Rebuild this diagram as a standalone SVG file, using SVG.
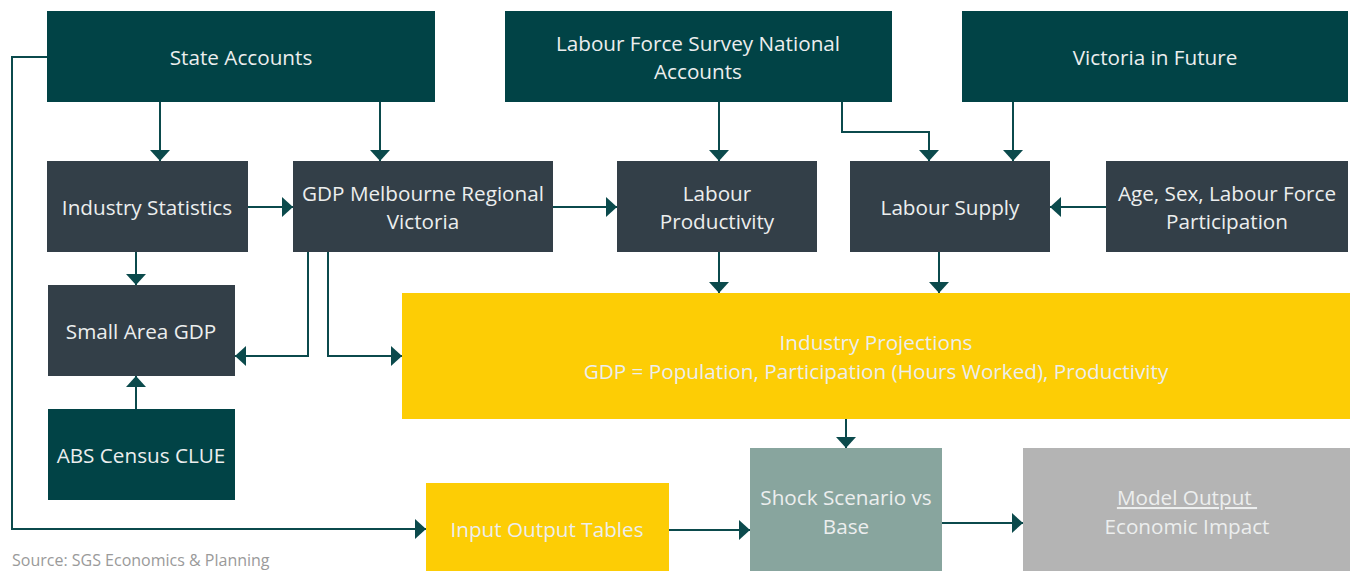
<svg xmlns="http://www.w3.org/2000/svg" width="1357" height="571" viewBox="0 0 1357 571">
<style>
.teal{fill:#014346}
.slate{fill:#333f48}
.yellow{fill:#fdcd05}
.sage{fill:#88a59e}
.grey{fill:#b4b4b4}
text{font-family:"Open Sans","Noto Sans",sans-serif;font-size:20.7px;fill:#eceeee;text-anchor:middle}
.src{fill:#9a9a9a;font-size:16px;text-anchor:start}
.c{fill:none;stroke:#0b4a4c;stroke-width:2}
</style>
<defs>
<marker id="ah" markerUnits="userSpaceOnUse" markerWidth="12" markerHeight="20" refX="11" refY="10" orient="auto">
<path d="M0,0 L11,10 L0,20 z" fill="#0b4a4c"/>
</marker>
</defs>
<rect width="1357" height="571" fill="#ffffff"/>
<g id="connectors">
<path class="c" d="M47,57 H12 V529 H426" marker-end="url(#ah)"/>
<path class="c" d="M160,102 V161" marker-end="url(#ah)"/>
<path class="c" d="M380,102 V161" marker-end="url(#ah)"/>
<path class="c" d="M719,102 V161" marker-end="url(#ah)"/>
<path class="c" d="M842,102 V132 H929 V161" marker-end="url(#ah)"/>
<path class="c" d="M1013,102 V161" marker-end="url(#ah)"/>
<path class="c" d="M248,207 H293" marker-end="url(#ah)"/>
<path class="c" d="M553,207 H617" marker-end="url(#ah)"/>
<path class="c" d="M1106,207 H1050" marker-end="url(#ah)"/>
<path class="c" d="M136,252 V285" marker-end="url(#ah)"/>
<path class="c" d="M136,409 V376" marker-end="url(#ah)"/>
<path class="c" d="M308,252 V356 H235" marker-end="url(#ah)"/>
<path class="c" d="M328,252 V356 H402" marker-end="url(#ah)"/>
<path class="c" d="M719,252 V293" marker-end="url(#ah)"/>
<path class="c" d="M939,252 V293" marker-end="url(#ah)"/>
<path class="c" d="M846,419 V448" marker-end="url(#ah)"/>
<path class="c" d="M669,530 H750" marker-end="url(#ah)"/>
<path class="c" d="M942,523 H1023" marker-end="url(#ah)"/>
</g>
<g id="state-accounts">
<rect class="teal" x="47" y="11" width="388" height="91"/>
<text x="241" y="65">State Accounts</text>
</g>
<g id="labour-force-survey">
<rect class="teal" x="505" y="11" width="387" height="91"/>
<text x="698" y="51">Labour Force Survey National</text>
<text x="698" y="79">Accounts</text>
</g>
<g id="victoria-in-future">
<rect class="teal" x="962" y="11" width="386" height="91"/>
<text x="1155" y="65">Victoria in Future</text>
</g>
<g id="industry-statistics">
<rect class="slate" x="47" y="161" width="201" height="91"/>
<text x="147" y="215">Industry Statistics</text>
</g>
<g id="gdp-melbourne">
<rect class="slate" x="293" y="161" width="260" height="91"/>
<text x="423" y="201">GDP Melbourne Regional</text>
<text x="423" y="229">Victoria</text>
</g>
<g id="labour-productivity">
<rect class="slate" x="617" y="161" width="200" height="91"/>
<text x="717" y="201">Labour</text>
<text x="717" y="229">Productivity</text>
</g>
<g id="labour-supply">
<rect class="slate" x="850" y="161" width="200" height="91"/>
<text x="950" y="215">Labour Supply</text>
</g>
<g id="age-sex">
<rect class="slate" x="1106" y="161" width="242" height="91"/>
<text x="1227" y="201">Age, Sex, Labour Force</text>
<text x="1227" y="229">Participation</text>
</g>
<g id="small-area-gdp">
<rect class="slate" x="48" y="285" width="187" height="91"/>
<text x="141" y="339">Small Area GDP</text>
</g>
<g id="abs-census">
<rect class="teal" x="48" y="409" width="187" height="91"/>
<text x="141" y="463">ABS Census CLUE</text>
</g>
<g id="industry-projections">
<rect class="yellow" x="402" y="293" width="948" height="126"/>
<text x="876" y="350">Industry Projections</text>
<text x="876" y="379">GDP = Population, Participation (Hours Worked), Productivity</text>
</g>
<g id="input-output">
<rect class="yellow" x="426" y="483" width="243" height="88"/>
<text x="547" y="537">Input Output Tables</text>
</g>
<g id="shock-scenario">
<rect class="sage" x="750" y="448" width="192" height="123"/>
<text x="846" y="505">Shock Scenario vs</text>
<text x="846" y="534">Base</text>
</g>
<g id="model-output">
<rect class="grey" x="1023" y="448" width="327" height="123"/>
<text x="1187" y="505" text-decoration="underline">Model Output&#160;</text>
<text x="1187" y="534">Economic Impact</text>
</g>
<text class="src" x="12" y="566">Source: SGS Economics &amp; Planning</text>
</svg>
